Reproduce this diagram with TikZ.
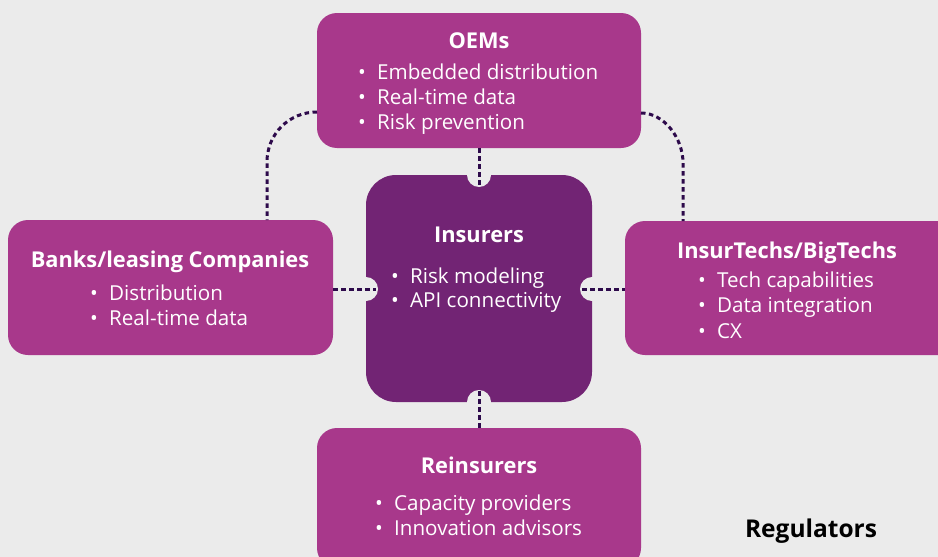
\documentclass[tikz,border=0pt]{standalone}
\usepackage{fontspec}
\setmainfont{Open Sans}
\definecolor{bg}{HTML}{EBEBEB}
\definecolor{boxc}{HTML}{A8388B}
\definecolor{ctr}{HTML}{722474}
\definecolor{dashc}{HTML}{2D0A4B}
\newcommand{\bitem}[4]{%
  \node[itm] (#1) at (#2,#3) {#4};
  \node[bul] (#1b) at ([xshift=-15pt]#1.base west) {\textbullet};}
\begin{document}
\begin{tikzpicture}[x=1pt,y=-1pt,
  actor/.style={fill=boxc, rounded corners=20pt, draw=none, inner sep=0pt},
  center/.style={fill=ctr, rounded corners=30pt, draw=none, inner sep=0pt},
  ttl/.style={text=white, font=\bfseries\fontsize{21.8}{26}\selectfont, inner sep=0pt, anchor=base},
  itm/.style={text=white, font=\fontsize{20.6}{24}\selectfont, inner sep=0pt, anchor=base west},
  bul/.style={text=white, font=\fontsize{20.6}{24}\selectfont, inner sep=0pt, anchor=base},
  notch/.style={fill=bg, draw=none, circle, minimum size=24pt, inner sep=0pt},
  link/.style={draw=dashc, line width=3pt, dash pattern=on 4.5pt off 3.5pt},
]
\useasboundingbox (0,0) rectangle (938,557);
\clip (0,0) rectangle (938,557);
\fill[bg] (0,0) rectangle (938,557);

% boxes
\node[actor, minimum width=324pt, minimum height=135pt] (oem) at (479,80.5) {};
\node[actor, minimum width=325pt, minimum height=135pt] (banks) at (170.5,287.5) {};
\node[actor, minimum width=335pt, minimum height=134pt] (tech) at (792.5,288) {};
\node[actor, minimum width=324pt, minimum height=140pt] (rein) at (479,498) {};
\node[center, minimum width=226pt, minimum height=227pt] (ins) at (479,288.5) {};

% notches
\node[notch] (nl) at (366,289) {};
\node[notch] (nr) at (592,289) {};
\node[notch] (nt) at (479,175) {};
\node[notch] (nb) at (479,402) {};

% straight connectors
\coordinate (el) at (376,289);
\coordinate (er) at (582,289);
\coordinate (et) at (479,186);
\coordinate (eb) at (479,391);
\draw[link] (banks.east |- el) -- (el);
\draw[link] (er) -- (tech.west |- er);
\draw[link] (oem.south) -- (et);
\draw[link] (eb) -- (rein.north);

% curved connectors
\coordinate (ol) at (317,112);
\coordinate (bl) at (267,220);
\coordinate (orr) at (641,113);
\coordinate (tr) at (683,221);
\draw[link] (ol) .. controls (289,112) and (267,134) .. (267,162) -- (bl);
\draw[link] (orr) .. controls (664,113) and (683,138) .. (683,163) -- (tr);

% texts
\node[ttl] (t1) at (479,48) {OEMs};
\bitem{o1}{377}{79}{Embedded distribution}
\bitem{o2}{377}{104}{Real-time data}
\bitem{o3}{377}{129}{Risk prevention}

\node[ttl] (t2) at (170,267) {Banks/leasing Companies};
\bitem{b1}{109}{300}{Distribution}
\bitem{b2}{109}{325}{Real-time data}

\node[ttl] (t3) at (479,242) {Insurers};
\bitem{i1}{410}{283}{Risk modeling}
\bitem{i2}{410}{307}{API connectivity}

\node[ttl] (t4) at (787,258) {InsurTechs/BigTechs};
\bitem{k1}{717}{287}{Tech capabilities}
\bitem{k2}{717}{312}{Data integration}
\bitem{k3}{717}{338}{CX}

\node[ttl] (t5) at (479,473) {Reinsurers};
\bitem{r1}{394}{510}{Capacity providers}
\bitem{r2}{394}{535}{Innovation advisors}

\node[ttl, text=black, font=\bfseries\fontsize{24.5}{28}\selectfont] (reg) at (811,537) {Regulators};
\end{tikzpicture}
\end{document}
